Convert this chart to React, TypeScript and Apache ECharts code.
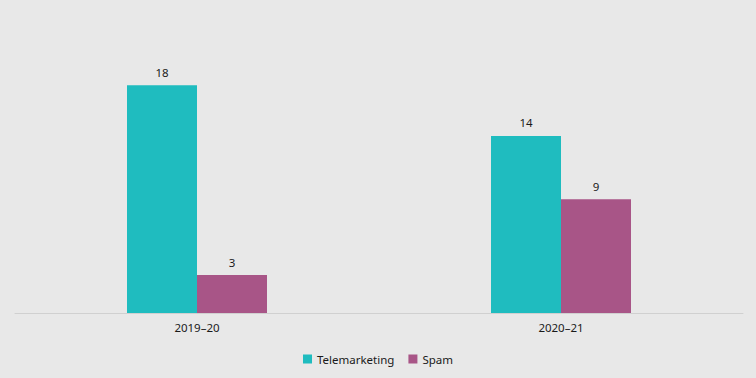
import React, { useEffect, useRef } from "react";
import * as echarts from "echarts";

const categories = ["2019–20", "2020–21"];
const telemarketing = [18, 14];
const spam = [3, 9];

export default function App() {
  const ref = useRef<HTMLDivElement>(null);
  useEffect(() => {
    const chart = echarts.init(ref.current!, null, { renderer: "svg" });
    const font = "'Noto Sans', 'Open Sans', sans-serif";
    chart.setOption({
      animation: false,
      backgroundColor: "#e8e8e8",
      textStyle: { fontFamily: font },
      grid: { left: 15, right: 13, top: 60, bottom: 65, containLabel: false },
      legend: {
        bottom: 8,
        left: "center",
        itemWidth: 9,
        itemHeight: 9,
        itemGap: 14,
        icon: "rect",
        textStyle: { fontSize: 11.5, color: "#1a1a1a", fontFamily: font },
        data: ["Telemarketing", "Spam"],
      },
      xAxis: {
        type: "category",
        data: categories,
        axisLine: { show: true, lineStyle: { color: "#d0d0d0" } },
        axisTick: { show: false },
        axisLabel: { fontSize: 11.5, color: "#1a1a1a", margin: 8, fontFamily: font },
      },
      yAxis: {
        type: "value",
        min: 0,
        max: 20,
        show: false,
        splitLine: { show: false },
      },
      series: [
        {
          name: "Telemarketing",
          type: "bar",
          data: telemarketing,
          barWidth: 70,
          barGap: "0%",
          itemStyle: { color: "#1fbcbf" },
          label: { show: true, position: "top", fontSize: 11.5, color: "#1a1a1a", distance: 7, fontFamily: font },
        },
        {
          name: "Spam",
          type: "bar",
          data: spam,
          barWidth: 70,
          barGap: "0%",
          itemStyle: { color: "#a85587" },
          label: { show: true, position: "top", fontSize: 11.5, color: "#1a1a1a", distance: 7, fontFamily: font },
        },
      ],
    });
    return () => chart.dispose();
  }, []);
  return <div ref={ref} style={{ position: "fixed", left: 0, top: 0, width: 756, height: 378 }} />;
}
